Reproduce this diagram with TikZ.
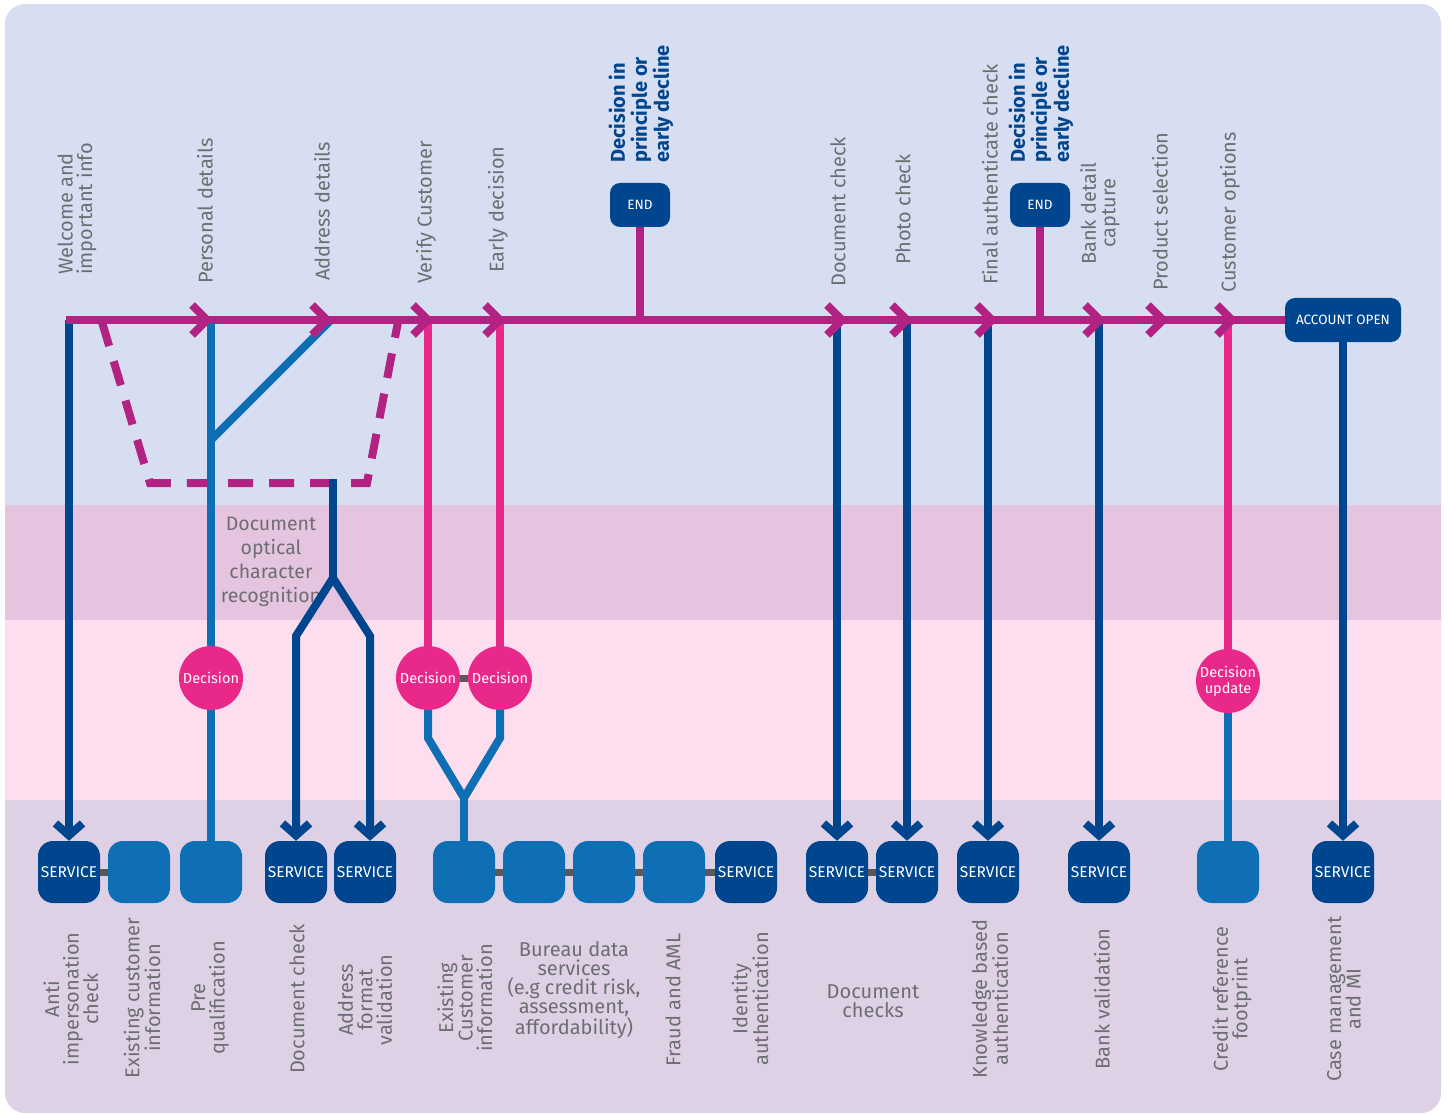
\documentclass[tikz,border=0pt]{standalone}
\usepackage{fontspec}
\setmainfont{Fira Sans}
\usetikzlibrary{arrows.meta}
\usetikzlibrary{positioning}

\definecolor{bandtop}{HTML}{D8DEF1}
\definecolor{bandocr}{HTML}{E5C4E0}
\definecolor{banddec}{HTML}{FCDEEE}
\definecolor{bandsvc}{HTML}{DED1E6}
\definecolor{mainmag}{HTML}{B12283}
\definecolor{decpink}{HTML}{E8298A}
\definecolor{dkblue}{HTML}{00468F}
\definecolor{mdblue}{HTML}{0F6FB5}
\definecolor{linkgray}{HTML}{58595B}
\definecolor{labelgray}{HTML}{6D6E71}

\begin{document}
\begin{tikzpicture}[x=1pt, y=-1pt]
   \tikzset{toplabel/.style={rotate=90, anchor=west, inner sep=0pt, align=left, text=labelgray, font=\fontsize{20}{19.5}\selectfont}}
   \tikzset{diplabel/.style={toplabel, text=dkblue, font=\bfseries\fontsize{20}{22}\selectfont}}
   \tikzset{svclabel/.style={rotate=90, inner sep=0pt, align=center, text=labelgray, font=\fontsize{20}{19.5}\selectfont}}
   \tikzset{flatlabel/.style={inner sep=0pt, align=center, text=labelgray, font=\fontsize{20}{19}\selectfont}}
   \tikzset{svcdark/.style={fill=dkblue, rounded corners=15pt, minimum size=62pt, inner sep=0pt, text=white, font=\fontsize{15.5}{15.5}\selectfont}}
   \tikzset{svcmed/.style={svcdark, fill=mdblue}}
   \tikzset{endbox/.style={fill=dkblue, rounded corners=10pt, minimum width=60pt, minimum height=44pt, inner sep=0pt, text=white, font=\fontsize{13.5}{13.5}\selectfont}}
   \tikzset{decision/.style={circle, fill=decpink, minimum size=64pt, inner sep=0pt, align=center, text=white, font=\fontsize{14.5}{16}\selectfont}}
   \tikzset{mainline/.style={draw=mainmag, line width=8pt}}
   \tikzset{dkline/.style={draw=dkblue, line width=8pt}}
   \tikzset{mdline/.style={draw=mdblue, line width=8pt}}
   \tikzset{pkline/.style={draw=decpink, line width=8pt}}
   \tikzset{svclink/.style={draw=linkgray, line width=7pt}}
   \tikzset{barb/.style={-{Straight Barb[length=12pt, width=27pt]}}}

   % bands
   \fill[white] (0,0) rectangle (1448,1115);
   \begin{scope}
      \clip[rounded corners=20pt] (5,4) rectangle (1441,1113);
      \fill[bandtop] (0,0) rectangle (1448,505);
      \fill[bandocr] (0,505) rectangle (1448,620);
      \fill[banddec] (0,620) rectangle (1448,800);
      \fill[bandsvc] (0,800) rectangle (1448,1115);
   \end{scope}

   % steps on the main line
   \coordinate (start) at (66,320);
   \coordinate (wel) at (69,320);
   \coordinate (pd) at (211,320);
   \coordinate (ad) at (331,320);
   \coordinate (vc) at (428,320);
   \coordinate (ed) at (500,320);
   \coordinate (dip1) at (640,320);
   \coordinate (dc) at (837,320);
   \coordinate (pc) at (907,320);
   \coordinate (fa) at (988,320);
   \coordinate (dip2) at (1040,320);
   \coordinate (bd) at (1099,320);
   \coordinate (co) at (1228,320);

   % labels above
   \node[toplabel] (t-wel) at (77,275) {Welcome and\\important info};
   \node[toplabel] (t-pd) at (205,284) {Personal details};
   \node[toplabel] (t-ad) at (322,281) {Address details};
   \node[toplabel] (t-vc) at (426,284) {Verify Customer};
   \node[toplabel] (t-ed) at (498,273) {Early decision};
   \node[diplabel] (t-dip1) at (641,163) {Decision in\\principle or\\early decline};
   \node[toplabel] (t-dc) at (838,287) {Document check};
   \node[toplabel] (t-pc) at (903,265) {Photo check};
   \node[toplabel] (t-fa) at (990,285) {Final authenticate check};
   \node[diplabel] (t-dip2) at (1041,163) {Decision in\\principle or\\early decline};
   \node[toplabel, align=center] (t-bd) at (1100,265) {Bank detail\\capture};
   \node[toplabel] (t-ps) at (1160,291) {Product selection};
   \node[toplabel] (t-co) at (1230,293) {Customer options};

   % end boxes
   \node[endbox] (end1) at (640,205) {END};
   \node[endbox] (end2) at (1040,205) {END};
   \node[endbox, minimum width=116pt] (acc) at (1343,320) {ACCOUNT OPEN};

   % decisions
   \node[flatlabel, font=\fontsize{19.5}{24}\selectfont] (ocr) at (271,562) {Document\\optical\\character\\recognition};
   \node[decision] (d1) at (211,678) {Decision};
   \node[decision] (d2) at (428,678) {Decision};
   \node[decision] (d3) at (500,678) {Decision};
   \node[decision] (d4) at (1228,681) {Decision\\update};

   % services
   \node[svcdark] (s1) at (69,872) {SERVICE};
   \node[svcmed] (s2) at (139,872) {};
   \node[svcmed] (s3) at (211,872) {};
   \node[svcdark] (s4) at (296,872) {SERVICE};
   \node[svcdark] (s5) at (365,872) {SERVICE};
   \node[svcmed] (s6) at (464,872) {};
   \node[svcmed] (s7) at (534,872) {};
   \node[svcmed] (s8) at (604,872) {};
   \node[svcmed] (s9) at (674,872) {};
   \node[svcdark] (s10) at (746,872) {SERVICE};
   \node[svcdark] (s11) at (837,872) {SERVICE};
   \node[svcdark] (s12) at (907,872) {SERVICE};
   \node[svcdark] (s13) at (988,872) {SERVICE};
   \node[svcdark] (s14) at (1099,872) {SERVICE};
   \node[svcmed] (s15) at (1228,872) {};
   \node[svcdark] (s16) at (1343,872) {SERVICE};

   % labels below
   \node[svclabel] (b-s1) at (71,999) {Anti\\impersonation\\check};
   \node[svclabel] (b-s2) at (142,998) {Existing customer\\information};
   \node[svclabel] (b-s3) at (210,998) {Pre\\qualification};
   \node[svclabel] (b-s4) at (297,999) {Document check};
   \node[svclabel] (b-s5) at (365,1000) {Address\\format\\validation};
   \node[svclabel] (b-s6) at (465,998) {Existing\\Customer\\information};
   \node[flatlabel] (b-s7) at (574,990) {Bureau data\\services\\(e.g credit risk,\\assessment,\\affordability)};
   \node[svclabel] (b-s9) at (673,1000) {Fraud and AML};
   \node[svclabel] (b-s10) at (750,999) {Identity\\authentication};
   \node[flatlabel] (b-s11) at (873,1001) {Document\\checks};
   \node[svclabel] (b-s13) at (990,999) {Knowledge based\\authentication};
   \node[svclabel] (b-s14) at (1102,999) {Bank validation};
   \node[svclabel] (b-s15) at (1232,999) {Credit reference\\footprint};
   \node[svclabel] (b-s16) at (1344,999) {Case management\\and MI};

   \draw[svclink] (s1) -- (s2);
   \draw[svclink] (s6) -- (s7);
   \draw[svclink] (s7) -- (s8);
   \draw[svclink] (s8) -- (s9);
   \draw[svclink] (s9) -- (s10);
   \draw[svclink] (s11) -- (s12);
   \draw[svclink] (d2) -- (d3);

   % ocr loop
   \coordinate (ocrL) at (102,322);
   \coordinate (ocrBL) at (150,483);
   \coordinate (ocrM) at (333,479);
   \coordinate (ocrBR) at (367,483);
   \coordinate (ocrR) at (398,322);
   \draw[mainline, dash pattern=on 25pt off 16pt] (ocrL) -- (ocrBL) -- (ocrBR) -- (ocrR);

   % connectors
   \draw[dkline, barb] (wel) -- (s1);
   \coordinate (pdj) at (211,440);
   \draw[mdline] (pdj) -- (ad);
   \draw[mdline] (pd) -- (d1);
   \draw[mdline] (d1) -- (s3);
   \coordinate (adfork) at (333,578);
   \coordinate (adL) at (296,636);
   \coordinate (adR) at (370,636);
   \draw[dkline] (ocrM) -- (adfork);
   \draw[dkline, barb] (adfork) -- (adL) -- (adL |- s4.north);
   \draw[dkline, barb] (adfork) -- (adR) -- (adR |- s5.north);
   \draw[pkline] (vc) -- (d2);
   \draw[pkline] (ed) -- (d3);
   \coordinate (vcL) at (428,738);
   \coordinate (edR) at (500,738);
   \coordinate (vcfork) at (464,798);
   \draw[mdline] (d2) -- (vcL) -- (vcfork) -- (edR) -- (d3);
   \draw[mdline] (vcfork) -- (s6);
   \draw[dkline, barb] (dc) -- (s11);
   \draw[dkline, barb] (pc) -- (s12);
   \draw[dkline, barb] (fa) -- (s13);
   \draw[dkline, barb] (bd) -- (s14);
   \draw[pkline] (co) -- (d4);
   \draw[mdline] (d4) -- (s15);
   \draw[dkline, barb] (acc) -- (s16);

   % main line
   \draw[mainline] (end1) -- (dip1);
   \draw[mainline] (end2) -- (dip2);
   \draw[mainline] (start) -- (acc);
   \foreach \x in {207,327,428,500,842,907,992,1100,1163,1232}
      \draw[mainline] (\x-15,305) -- (\x,320) -- (\x-15,335);

   \useasboundingbox (0,0) rectangle (1448,1115);
\end{tikzpicture}
\end{document}
